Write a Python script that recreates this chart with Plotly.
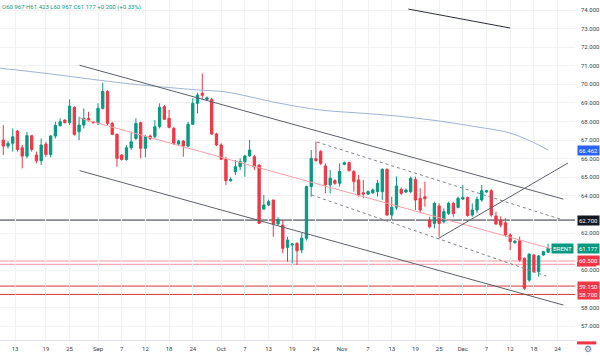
import plotly.graph_objects as go

# ---------------- data ----------------
bar_index = list(range(116))
opens = [
    67.00, 66.68, 66.83, 67.49, 66.59, 66.14, 67.24, 66.20, 65.89, 66.79,
    66.23, 67.22, 67.79, 68.08, 67.94, 68.76, 67.45, 67.81, 68.17, 67.99,
    67.94, 68.71, 69.62, 67.90, 67.31, 66.20, 65.96, 66.59, 67.09, 67.94,
    66.56, 67.22, 67.19, 67.72, 68.80, 68.17, 67.63, 66.79, 66.95, 66.68,
    67.85, 68.98, 69.52, 69.19, 69.19, 67.33, 66.74, 65.97, 64.82, 65.30,
    65.57, 65.84, 66.15, 66.11, 65.66, 63.29, 63.51, 63.78, 62.49, 62.43,
    61.23, 61.36, 61.45, 61.09, 61.72, 64.50, 66.00, 66.38, 65.61, 64.59,
    64.82, 64.68, 65.70, 65.79, 65.31, 64.86, 64.17, 64.10, 64.17, 64.23,
    64.23, 65.43, 62.97, 63.39, 64.35, 64.21, 64.23, 64.89, 63.87, 63.95,
    62.70, 62.52, 63.46, 62.61, 63.06, 63.60, 63.38, 63.83, 63.92, 62.97,
    63.24, 63.78, 64.21, 64.28, 62.92, 62.70, 62.55, 61.90, 61.48, 61.59,
    60.64, 59.47, 60.82, 59.92, 60.82, 60.967]
closes = [
    66.68, 66.83, 67.18, 66.50, 66.14, 67.24, 66.50, 65.89, 66.74, 66.23,
    67.22, 67.79, 67.99, 67.94, 68.83, 67.31, 67.81, 68.17, 68.05, 67.94,
    68.71, 69.62, 67.90, 67.31, 66.02, 65.96, 66.59, 66.91, 67.90, 66.56,
    67.19, 67.10, 67.72, 68.75, 68.12, 67.69, 66.83, 66.95, 66.68, 67.85,
    68.98, 69.43, 69.41, 69.28, 67.33, 66.74, 65.97, 64.82, 64.89, 65.57,
    65.84, 66.15, 66.47, 65.57, 62.52, 63.51, 63.69, 62.49, 62.74, 61.18,
    61.63, 61.41, 61.05, 61.72, 64.50, 66.02, 65.90, 65.75, 64.59, 64.95,
    64.68, 65.31, 65.79, 65.36, 64.77, 64.05, 64.10, 64.23, 64.32, 64.68,
    65.43, 62.97, 63.39, 64.53, 64.14, 64.32, 64.95, 63.78, 63.24, 63.85,
    62.34, 63.60, 62.52, 63.15, 63.60, 63.06, 63.87, 63.92, 62.94, 63.24,
    63.82, 64.28, 64.28, 62.97, 62.49, 62.43, 61.90, 61.54, 61.57, 60.55,
    59.03, 60.87, 59.92, 60.77, 61.00, 61.177]
highs = [
    67.81, 66.95, 67.63, 67.54, 66.74, 67.45, 67.27, 66.38, 67.09, 66.91,
    67.27, 67.99, 68.17, 68.12, 69.19, 68.83, 68.26, 68.71, 68.53, 68.02,
    68.98, 70.09, 69.69, 67.99, 67.36, 66.25, 66.74, 67.45, 68.17, 67.99,
    67.28, 67.30, 68.08, 68.98, 68.89, 68.62, 67.72, 67.02, 67.01, 67.99,
    69.25, 69.55, 70.59, 69.35, 69.28, 67.40, 66.83, 66.11, 65.00, 65.93,
    66.02, 66.20, 67.01, 66.20, 65.72, 64.05, 63.80, 63.80, 62.85, 62.70,
    61.80, 61.45, 61.50, 61.99, 64.55, 66.47, 66.92, 66.47, 65.75, 65.39,
    64.90, 65.75, 65.85, 65.84, 65.39, 65.13, 64.86, 64.30, 64.40, 64.86,
    65.48, 65.48, 63.96, 65.04, 64.45, 64.40, 65.04, 65.04, 64.41, 64.77,
    62.88, 63.69, 63.60, 63.33, 63.69, 63.69, 63.96, 64.59, 63.96, 63.60,
    63.96, 64.59, 64.32, 64.35, 63.15, 62.90, 62.80, 61.99, 61.62, 61.81,
    60.70, 60.91, 60.87, 60.82, 61.05, 61.423]
lows = [
    66.20, 66.55, 66.38, 66.38, 65.48, 66.02, 66.38, 65.75, 65.66, 66.11,
    66.07, 67.09, 67.72, 67.90, 67.81, 67.24, 67.00, 67.63, 67.99, 67.90,
    67.81, 68.65, 67.81, 67.27, 65.57, 65.90, 65.89, 66.47, 67.00, 66.02,
    66.07, 67.00, 67.10, 67.63, 68.08, 67.63, 66.74, 66.72, 66.11, 66.61,
    67.81, 68.44, 69.19, 69.15, 67.28, 66.68, 65.93, 64.59, 64.75, 65.12,
    65.39, 65.03, 66.11, 65.39, 62.49, 63.24, 63.45, 61.81, 62.40, 60.91,
    60.46, 60.37, 60.28, 60.91, 61.60, 63.96, 65.84, 65.66, 64.14, 64.14,
    64.60, 64.50, 65.65, 65.31, 64.23, 63.96, 63.87, 64.05, 64.10, 63.96,
    63.78, 62.92, 62.70, 63.24, 64.05, 64.15, 64.14, 63.24, 63.06, 63.42,
    62.25, 62.25, 61.81, 62.52, 62.97, 62.88, 63.33, 63.78, 62.88, 62.88,
    63.06, 63.69, 64.17, 62.88, 62.43, 62.30, 61.81, 61.09, 61.44, 60.46,
    58.94, 59.38, 59.87, 59.65, 60.78, 60.967]
price_change = 0.200
price_change_pct = 0.33

# moving average (sampled)
ma_index = [-1, 10, 20, 29, 41, 47, 58, 67, 75, 83, 92, 100, 107, 113, 115]
ma_values = [70.88, 70.56, 70.23, 69.97, 69.70, 69.59, 69.00, 68.62, 68.46,
             68.30, 68.03, 67.71, 67.38, 66.74, 66.462]

# drawn trend lines (bar index, price)
channel_x = [16.1, 118.2]
channel_upper = [71.03, 63.83]
channel_mid = [68.19, 60.98]
channel_lower = [65.36, 58.13]
dash_upper_x = [66.2, 118.2]
dash_upper = [66.90, 62.70]
dash_lower_x = [65.1, 114.6]
dash_lower = [64.05, 59.69]
rising_x = [91.9, 119.2]
rising = [61.72, 65.77]
top_line_x = [85.5, 107.0]
top_line = [74.05, 73.03]

# horizontal levels
level_black = 62.700
levels_pink = [60.500, 60.320]
levels_red = [59.150, 58.700]

# tick labels
tick_pos = [2.5, 9, 14, 20, 25, 30, 35, 40, 46, 51, 56, 61, 66, 71.5, 77, 82,
            87, 92, 97, 102, 107, 112, 117]
tick_text = ['13', '19', '25', 'Sep', '7', '12', '18', '24', 'Oct', '7', '13',
             '19', '24', 'Nov', '7', '13', '19', '25', 'Dec', '7', '12', '18', '24']
price_ticks = [74, 73, 72, 71, 70, 69, 68, 67, 66, 65, 64, 62, 60, 58, 57]

GREEN = '#089981'
RED = '#f23645'
FONT = 'Roboto'

fig = go.Figure()

# MA line
fig.add_trace(go.Scatter(x=ma_index, y=ma_values, mode='lines',
                         line=dict(color='#9fb3d6', width=1, shape='spline'),
                         hoverinfo='skip'))

# channel lines
line_dark = '#5d606b'
fig.add_trace(go.Scatter(x=channel_x, y=channel_upper, mode='lines',
                         line=dict(color=line_dark, width=1), hoverinfo='skip'))
fig.add_trace(go.Scatter(x=channel_x, y=channel_lower, mode='lines',
                         line=dict(color=line_dark, width=1), hoverinfo='skip'))
fig.add_trace(go.Scatter(x=channel_x, y=channel_mid, mode='lines',
                         line=dict(color='#f2a0a6', width=1), hoverinfo='skip'))
fig.add_trace(go.Scatter(x=dash_upper_x, y=dash_upper, mode='lines',
                         line=dict(color='#80838e', width=1, dash='3px,3px'), hoverinfo='skip'))
fig.add_trace(go.Scatter(x=dash_lower_x, y=dash_lower, mode='lines',
                         line=dict(color='#80838e', width=1, dash='3px,3px'), hoverinfo='skip'))
fig.add_trace(go.Scatter(x=rising_x, y=rising, mode='lines',
                         line=dict(color=line_dark, width=1), hoverinfo='skip'))
fig.add_trace(go.Scatter(x=top_line_x, y=top_line, mode='lines',
                         line=dict(color='#2a2e39', width=1), hoverinfo='skip'))

# candles
fig.add_trace(go.Candlestick(
    x=bar_index, open=opens, high=highs, low=lows, close=closes,
    increasing=dict(line=dict(color=GREEN, width=1), fillcolor=GREEN),
    decreasing=dict(line=dict(color=RED, width=1), fillcolor=RED),
    whiskerwidth=0, hoverinfo='skip'))

shapes = []
shapes.append(dict(type='line', xref='paper', x0=0, x1=1, yref='y',
                   y0=level_black, y1=level_black,
                   line=dict(color='#2a2e39', width=1), layer='below'))
for lv in levels_pink:
    shapes.append(dict(type='line', xref='paper', x0=0, x1=1, yref='y', y0=lv, y1=lv,
                       line=dict(color='#ef9aa2', width=1), layer='below'))
for lv in levels_red:
    shapes.append(dict(type='line', xref='paper', x0=0, x1=1, yref='y', y0=lv, y1=lv,
                       line=dict(color='#d9323f', width=1), layer='below'))
# hidden second badge strip & clipped bottom badge
shapes.append(dict(type='rect', xref='paper', x0=1.0035, x1=1.037, yref='y',
                   y0=levels_pink[1] - 0.12, y1=levels_pink[1] + 0.12,
                   fillcolor=RED, line=dict(width=0)))
shapes.append(dict(type='rect', xref='paper', x0=1.0035, x1=1.037, yref='paper',
                   y0=-0.013, y1=-0.004, fillcolor=RED, line=dict(width=0)))

annotations = []

def badge(val, bg, txt=None):
    annotations.append(dict(x=1, xref='paper', xanchor='left', xshift=2,
                            y=val, yref='y', yanchor='middle',
                            text=txt if txt else f'{val:.3f}', showarrow=False,
                            font=dict(family=FONT, size=6, color='white'),
                            bgcolor=bg, borderpad=1))

badge(66.462, '#2962ff')
badge(level_black, '#131722')
badge(closes[-1], GREEN)
badge(levels_pink[0], RED)
badge(levels_red[0], RED)
badge(levels_red[1], RED)
annotations.append(dict(x=1, xref='paper', xanchor='right', xshift=-1,
                        y=closes[-1], yref='y', yanchor='middle', text='BRENT',
                        showarrow=False, font=dict(family=FONT, size=6, color='white'),
                        bgcolor=GREEN, borderpad=1))
annotations.append(dict(x=0, xref='paper', xanchor='left', y=1, yref='paper',
                        yanchor='top', yshift=-1, showarrow=False,
                        text=f'O{opens[-1]:.3f} H{highs[-1]:.3f} L{lows[-1]:.3f} '
                             f'C{closes[-1]:.3f} +{price_change:.3f} (+{price_change_pct:.2f}%)',
                        font=dict(family=FONT, size=6, color=GREEN)))
annotations.append(dict(x=1.0225, xref='paper', xanchor='center', y=-0.027, yref='paper',
                        yanchor='middle', showarrow=False, text='\u2699',
                        font=dict(family='DejaVu Sans', size=9, color='#6a6d78')))

fig.update_layout(
    width=600, height=356,
    margin=dict(l=0, r=23, t=0, b=16),
    paper_bgcolor='white', plot_bgcolor='white',
    showlegend=False,
    shapes=shapes, annotations=annotations,
    font=dict(family=FONT, size=6, color='#3b3e48'),
    xaxis=dict(range=[-0.69, 120.68], tickmode='array', tickvals=tick_pos,
               ticktext=tick_text, showgrid=True, gridcolor='#f0f1f4', gridwidth=1,
               zeroline=False, rangeslider=dict(visible=False), ticks='',
               ticklabelstandoff=3,
               showline=True, linecolor='#e0e3eb', tickfont=dict(size=6, color='#3b3e48'),
               fixedrange=True),
    yaxis=dict(range=[56.249, 74.538], side='right', tickmode='array',
               tickvals=price_ticks, ticktext=[f'{v:.3f}' for v in price_ticks],
               showgrid=True, gridcolor='#f0f1f4', gridwidth=1, zeroline=False,
               ticks='', ticklabelstandoff=5, tickfont=dict(size=6, color='#3b3e48'),
               fixedrange=True),
)

fig.write_html('out.html', config={'displayModeBar': False},
               post_script="document.body.style.margin='0';")
